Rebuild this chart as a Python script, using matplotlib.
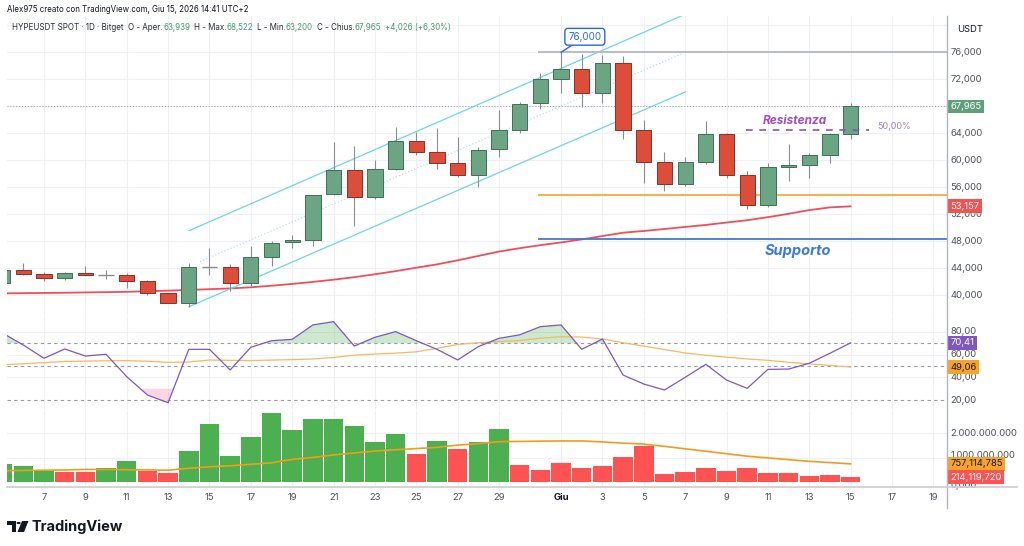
import matplotlib
matplotlib.use("Agg")
import matplotlib.pyplot as plt
import numpy as np
from matplotlib.patches import Rectangle, Polygon, Circle
from matplotlib.lines import Line2D
from matplotlib.transforms import blended_transform_factory

plt.rcParams['font.family'] = ['Inter', 'DejaVu Sans']

# ---------------- data ----------------
# daily candles, 5 May .. 15 June
day_numbers = [5, 6, 7, 8, 9, 10, 11, 12, 13, 14, 15, 16, 17, 18, 19, 20, 21, 22, 23, 24,
               25, 26, 27, 28, 29, 30, 31, 1, 2, 3, 4, 5, 6, 7, 8, 9, 10, 11, 12, 13, 14, 15]
opens = [41830, 43760, 43100, 42530, 43320, 42950, 43020, 42080, 40260, 38870,
         44160, 44160, 41830, 45690, 47810, 48120, 54940, 58540, 54590, 58740,
         62800, 61170, 59630, 57800, 61620, 64480, 68440, 72090, 73570, 69920,
         74460, 64480, 59780, 56470, 59730, 63840, 57800, 53350, 58940, 59280,
         60720, 63939]
highs = [43900, 44800, 43460, 43460, 44310, 43720, 43200, 42230, 40350, 44800,
         46930, 44600, 47270, 47990, 48900, 54900, 62740, 62100, 60030, 64970,
         64225, 64730, 63400, 62000, 67440, 68670, 72970, 76000, 75700, 75600,
         75450, 65960, 61210, 60520, 65810, 64000, 58400, 59630, 62400, 61000,
         64100, 68522]
lows = [41700, 43000, 42130, 42230, 42900, 42330, 41000, 40000, 38800, 38270,
        42930, 40650, 41340, 44310, 47020, 47270, 54800, 50240, 54200, 58600,
        60770, 58740, 57550, 55980, 60430, 64080, 67550, 70010, 67930, 68530,
        63100, 56660, 55470, 56200, 59390, 57310, 52720, 53100, 56960, 57310,
        59630, 63200]
closes = [43720, 43080, 42530, 43320, 42930, 43010, 42080, 40350, 38870, 44160,
          44250, 41830, 45690, 47770, 48160, 54840, 58540, 54590, 58740, 62800,
          61170, 59580, 57800, 61510, 64480, 68330, 72040, 73570, 69920, 74460,
          64480, 59780, 56470, 59690, 63840, 57800, 53350, 58940, 59280, 60770,
          63939, 67965]
price_ma = [40250, 40280, 40310, 40340, 40390, 40430, 40480, 40560, 40650, 40760,
            40870, 40980, 41150, 41380, 41650, 41950, 42280, 42650, 43080, 43550,
            44050, 44550, 45150, 45800, 46450, 46950, 47400, 47800, 48250, 48750,
            49250, 49500, 49800, 50100, 50400, 50750, 51100, 51550, 52050, 52600,
            53000, 53157]
rsi = [79, 68.5, 56.8, 65, 58.8, 60.3, 40.6, 24.4, 17.6, 64.7,
       64.7, 46.5, 66.5, 72.3, 73.5, 86.2, 89.1, 67.6, 75.3, 80.3,
       72.3, 64.7, 55.3, 67.1, 74.4, 77.5, 84.7, 86.2, 64.7, 73.8,
       42.0, 34.1, 28.8, 40.0, 51.5, 37.6, 30.3, 47.0, 47.3, 52.4,
       61.2, 70.41]
rsi_ma = [51, 52, 53, 54, 54.3, 54.6, 54.7, 54.2, 53.2, 53.5,
          55.3, 55.0, 54.8, 55.2, 55.6, 56.2, 57.5, 59.5, 60.5, 61.3,
          62.5, 65.5, 69.0, 70.5, 71.5, 72.5, 74.5, 75.8, 75.5, 73.8,
          70.5, 67.5, 64.5, 61.5, 59.5, 57.8, 56.2, 55.0, 53.3, 51.8,
          50.5, 49.06]
volume = [0.74, 0.67, 0.47, 0.44, 0.44, 0.58, 0.87, 0.47, 0.40, 1.29,
          2.37, 1.08, 1.85, 2.81, 2.13, 2.57, 2.57, 2.31, 1.63, 1.96,
          1.15, 1.69, 1.35, 1.66, 2.16, 0.71, 0.51, 0.80, 0.60, 0.68,
          1.02, 1.50, 0.33, 0.41, 0.60, 0.47, 0.60, 0.40, 0.40, 0.28,
          0.30, 0.214119720]  # billions
volume_up = [1, 1, 1, 0, 0, 1, 1, 0, 0, 1,
             1, 1, 1, 1, 1, 1, 1, 1, 1, 1,
             0, 1, 0, 1, 1, 0, 0, 0, 0, 0,
             0, 0, 0, 0, 0, 0, 0, 0, 0, 0,
             0, 0]
volume_ma = [0.48, 0.49, 0.50, 0.51, 0.53, 0.53, 0.52, 0.51, 0.50, 0.58,
             0.64, 0.68, 0.74, 0.80, 0.94, 1.02, 1.12, 1.20, 1.28, 1.33,
             1.38, 1.43, 1.52, 1.58, 1.66, 1.67, 1.68, 1.69, 1.69, 1.65,
             1.60, 1.56, 1.47, 1.37, 1.27, 1.17, 1.07, 1.00, 0.93, 0.86,
             0.81, 0.757114785]  # billions

x_tick_idx = [2, 4, 6, 8, 10, 12, 14, 16, 18, 20, 22, 24, 27, 29, 31, 33, 35, 37, 39, 41, 43, 45]
x_tick_labels = ["7", "9", "11", "13", "15", "17", "19", "21", "23", "25", "27", "29",
                 "Giu", "3", "5", "7", "9", "11", "13", "15", "17", "19"]
price_ticks = [40000, 44000, 48000, 52000, 56000, 60000, 64000, 72000, 76000]
rsi_ticks = [20, 40, 60, 80]

# drawings (index, price)
channel_upper = [(9.01, 49540), (33.0, 81640)]
channel_lower = [(9.01, 38273), (33.0, 70113)]
channel_mid = [(9.54, 44947), (32.9, 75850)]
level_start = 25.9
top_level = 76000
resist_level = 54870
support_level = 48240
dash_level = 64450
dash_span = (35.95, 41.9)

# ---------------- figure ----------------
W, H = 1024, 546
fig = plt.figure(figsize=(W / 100, H / 100), dpi=100)
fig.patch.set_facecolor('white')

def axrect(x0, y0, x1, y1):
    return [x0 / W, 1 - y1 / H, (x1 - x0) / W, (y1 - y0) / H]

ax = fig.add_axes(axrect(7, 16, 947, 316))
axr = fig.add_axes(axrect(7, 317, 947, 410), sharex=ax)
axv = fig.add_axes(axrect(7, 411, 947, 487), sharex=ax)

n = len(closes)
idx = np.arange(n)
XL = (0.21, 45.66)
GRID = '#eef0f4'
for a in (ax, axr, axv):
    a.set_xlim(*XL)
    for s in a.spines.values():
        s.set_visible(False)
    a.tick_params(left=False, right=False, bottom=False, top=False,
                  labelleft=False, labelbottom=False)
    for t in x_tick_idx:
        a.axvline(t, color=GRID, lw=0.8, zorder=0)

ax.set_ylim(36893, 81383)
axr.set_ylim(11.2, 93.2)
axv.set_ylim(-0.183, 2.907)

for p in range(36000, 84000, 4000):
    ax.axhline(p, color=GRID, lw=0.8, zorder=0)
for r in (40, 60, 80):
    axr.axhline(r, color=GRID, lw=0.8, zorder=0)
for v in (1, 2, 3):
    axv.axhline(v, color=GRID, lw=0.8, zorder=0)

# ---- candles ----
G_FACE, G_EDGE = '#6ba583', '#3f6f56'
R_FACE, R_EDGE = '#dc4e3a', '#8c3024'
WICK = '#8a8d94'
bw = 0.74
for i in range(n):
    o, h, l, c = opens[i], highs[i], lows[i], closes[i]
    ax.vlines(i, l, h, color=WICK, lw=0.8, zorder=3)
    if abs(c - o) < 150:
        ax.hlines((o + c) / 2, i - bw / 2, i + bw / 2, color=WICK, lw=1.0, zorder=4)
        continue
    up = c >= o
    ax.add_patch(Rectangle((i - bw / 2, min(o, c)), bw, abs(c - o),
                           facecolor=G_FACE if up else R_FACE,
                           edgecolor=G_EDGE if up else R_EDGE, lw=0.7, zorder=4))

ax.plot(idx, price_ma, color='#f04e5e', lw=1.3, zorder=2)

# channel
for seg in (channel_upper, channel_lower):
    ax.plot([seg[0][0], seg[1][0]], [seg[0][1], seg[1][1]], color='#6fd6e1', lw=0.9, zorder=2)
ax.plot([channel_mid[0][0], channel_mid[1][0]], [channel_mid[0][1], channel_mid[1][1]],
        color='#a9dbe2', lw=0.8, ls=(0, (1, 2)), zorder=2)

# levels
ax.hlines(top_level, level_start, XL[1], color='#b8bbc2', lw=1.4, zorder=2)
ax.hlines(resist_level, level_start, XL[1], color='#f6b352', lw=1.5, zorder=2)
ax.hlines(support_level, level_start, XL[1], color='#3b7be0', lw=1.3, zorder=2)
ax.axhline(closes[-1], color='#9598a1', lw=0.7, ls=(0, (1, 2)), zorder=1)
ax.hlines(dash_level, dash_span[0], dash_span[1], color='#7e57c2', lw=1.2, ls=(0, (4, 4)), zorder=5)

ax.text(38.3, 65800, "Resistenza", color='#a54cc6', fontsize=8.5, fontweight='bold',
        fontstyle='italic', ha='center', va='center', zorder=6)
ax.text(42.3, 65050, "50,00%", color='#9a82d4', fontsize=6.5, ha='left', va='center', zorder=6)
ax.text(38.45, 46550, "Supporto", color='#3b7be0', fontsize=10.5, fontweight='bold',
        fontstyle='italic', ha='center', va='center', zorder=6)

# callout
ax.annotate("76,000", xy=(27, top_level), xytext=(28.15, 78300), textcoords='data',
            fontsize=7, color='#2962ff', ha='center', va='center', zorder=8,
            bbox=dict(boxstyle='round,pad=0.35,rounding_size=0.3', fc='white', ec='#2962ff', lw=1.0),
            arrowprops=dict(arrowstyle='-', color='#2962ff', lw=1.0, shrinkA=0, shrinkB=0))

# ---- RSI ----
rs = np.array(rsi)
axr.plot(idx, rs, color='#7e57c2', lw=0.9, zorder=3)
axr.plot(idx, rsi_ma, color='#f6b860', lw=0.9, zorder=2)
axr.fill_between(idx, 70, rs, where=rs > 70, interpolate=True, color='#4caf50', alpha=0.28, lw=0, zorder=1)
axr.fill_between(idx, 30, rs, where=rs < 30, interpolate=True, color='#f06292', alpha=0.25, lw=0, zorder=1)
for lv in (70, 50, 20):
    axr.axhline(lv, color='#9a9ca3', lw=0.8, ls=(0, (3, 3)), zorder=1)

# ---- volume ----
VG, VR = '#4caf50', '#ff5252'
axv.bar(idx, volume, width=0.94, color=[VG if u else VR for u in volume_up], zorder=2)
axv.plot(idx, volume_ma, color='#f39c1a', lw=1.2, zorder=3)

# ---- right scale labels ----
def rlabel(a, y, s, fc=None, tc='#50535e', z=5, fs=6.8, dy=0):
    kw = dict(xy=(1, y), xycoords=a.get_yaxis_transform(), xytext=(2.6, dy),
              textcoords='offset points', va='center', ha='left', fontsize=fs,
              color=tc, annotation_clip=False, zorder=z)
    if fc:
        kw['bbox'] = dict(boxstyle='square,pad=0.25', fc=fc, ec='none')
    a.annotate(s, **kw)

for p in price_ticks:
    rlabel(ax, p, f"{p:,}")
rlabel(ax, closes[-1], f"{closes[-1]:,}", fc='#5f9f7c', tc='white', z=7)
rlabel(ax, price_ma[-1], f"{price_ma[-1]:,}", fc='#f05350', tc='white', z=7)
fig.text(957 / W, 1 - 30 / H, "USDT", fontsize=6.8, color='#131722', va='center')

for r in rsi_ticks:
    rlabel(axr, r, f"{r},00")
rlabel(axr, rsi[-1], f"{rsi[-1]:.2f}".replace('.', ','), fc='#7e57c2', tc='white', z=7)
rlabel(axr, rsi_ma[-1], f"{rsi_ma[-1]:.2f}".replace('.', ','), fc='#f7a326', tc='#131722', z=7)

rlabel(axv, 2, "2.000.000.000")
rlabel(axv, 1, "1.000.000.000", dy=1.5)
rlabel(axv, 0, "0,000", dy=-2)
rlabel(axv, volume_ma[-1], f"{round(volume_ma[-1] * 1e9):,}", fc='#f7a326', tc='#131722', z=7)
rlabel(axv, volume[-1], f"{round(volume[-1] * 1e9):,}", fc='#ff5252', tc='white', z=7)

# date labels
tr = blended_transform_factory(axv.transData, axv.transAxes)
for t, lab in zip(x_tick_idx, x_tick_labels):
    axv.text(t, -0.135, lab, transform=tr, ha='center', va='center', fontsize=6.8,
             color='#131722' if lab == 'Giu' else '#50535e',
             fontweight='bold' if lab == 'Giu' else 'normal', clip_on=False)

# frame lines
fig.add_artist(Line2D([947 / W, 947 / W], [1 - 16 / H, 1 - 508 / H], color='#b2b5be', lw=1.0))
fig.add_artist(Line2D([7 / W, 1017 / W], [1 - 487 / H, 1 - 487 / H], color='#c9ccd3', lw=1.2))

# ---- header ----
fig.text(7 / W, 1 - 10 / H, "Alex975 creato con TradingView.com, Giu 15, 2026 14:41 UTC+2",
         fontsize=5.7, color='#131722', va='center')

renderer = fig.canvas.get_renderer()
DARK, GREEN = '#2a2e39', '#4d9a78'
pieces = [("HYPEUSDT SPOT · 1D · Bitget", DARK, 5), ("O - Aper.", DARK, 0), ("63,939", GREEN, 4),
          ("H - Max.", DARK, 0), ("68,522", GREEN, 4), ("L - Min.", DARK, 0), ("63,200", GREEN, 4),
          ("C - Chius.", DARK, 0), (f"{closes[-1]:,}", GREEN, 4), ("+4,026 (+6,30%)", GREEN, 0)]
xpix = 12
for s, col, gap in pieces:
    t = fig.text(xpix / W, 1 - 27 / H, s, fontsize=5.75, color=col, va='center')
    bb = t.get_window_extent(renderer)
    xpix += bb.width + gap

# ---- logo ----
def P(x, y):
    return (x / W, 1 - y / H)
fig.add_artist(Polygon([P(7, 521), P(15.5, 521), P(15.5, 532), P(11.5, 532), P(11.5, 525), P(7, 525)],
                       closed=True, fc='#131722', ec='none', transform=fig.transFigure))
fig.add_artist(Polygon([P(22, 521), P(28.5, 521), P(24, 532), P(17.5, 532)],
                       closed=True, fc='#131722', ec='none', transform=fig.transFigure))
fig.add_artist(Circle(P(18.6, 523), 2.1 / W, fc='#131722', ec='none', transform=fig.transFigure))
fig.text(32 / W, 1 - 526.5 / H, "TradingView", fontsize=10.5, fontweight='bold', color='#131722', va='center')

fig.savefig("out.png", dpi=100, facecolor='white')
